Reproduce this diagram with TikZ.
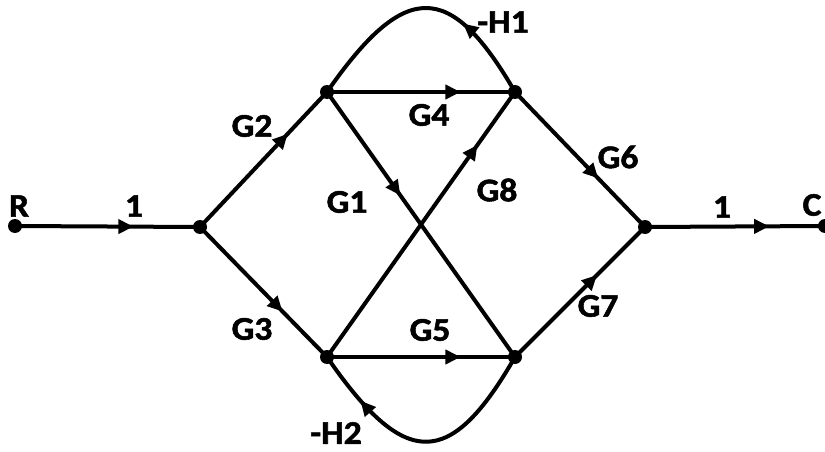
\documentclass[tikz,border=0pt]{standalone}
\usepackage{fontspec}
\newfontfamily\labfont{Carlito Bold}[FakeStretch=1.08,FakeBold=1.6]
\usetikzlibrary{arrows.meta,decorations.markings}
\begin{document}
\begin{tikzpicture}[x=1pt,y=-1pt,line width=4pt,
  dot/.style={circle,fill,inner sep=0pt,minimum size=14pt},
  lab/.style={font=\labfont\fontsize{33}{33}\selectfont,inner sep=0pt},
  mid/.style={postaction={decorate},decoration={markings,
     mark=at position #1 with {\arrow{Triangle[length=15pt,width=14pt]}}}}]
\useasboundingbox (0,0) rectangle (825,452);
\node[dot] (R) at (15,226) {};
\node[dot] (A) at (200,227) {};
\node[dot] (B) at (327,92) {};
\node[dot] (D) at (515,92) {};
\node[dot] (E) at (645,227) {};
\node[dot] (C) at (825,226) {};
\node[dot] (F) at (327,357) {};
\node[dot] (G) at (515,357) {};

\draw[mid=0.64] (R.center) -- (A.center);
\draw[mid=0.69] (E.center) -- (C.center);
\draw[mid=0.69] (A.center) -- (B.center);
\draw[mid=0.65] (A.center) -- (F.center);
\draw[mid=0.71] (B.center) -- (D.center);
\draw[mid=0.71] (F.center) -- (G.center);
\draw[mid=0.39] (B.center) -- (G.center);
\draw[mid=0.80] (F.center) -- (D.center);
\draw[mid=0.64] (D.center) -- (E.center);
\draw[mid=0.63] (G.center) -- (E.center);
\draw[mid=0.33] (D.center) .. controls (450,-20) and (405,-20) .. (B.center);
\draw[mid=0.79] (G.center) .. controls (450,470) and (405,470) .. (F.center);

\node[lab] (lR) at (19,206) {R};
\node[lab] (l1a) at (134,206) {1};
\node[lab] (l1b) at (722,207) {1};
\node[lab] (lC) at (812,205) {C};
\node[lab] (lG2) at (252,126) {G2};
\node[lab] (lG3) at (252,329) {G3};
\node[lab] (lG6) at (618,157) {G6};
\node[lab] (lG7) at (598,306) {G7};
\node[lab] (lG4) at (429,115) {G4};
\node[lab] (lG8) at (497,190) {G8};
\node[lab] (lG1) at (347,202) {G1};
\node[lab] (lG5) at (430,330) {G5};
\node[lab] (lH1) at (503,22) {-H1};
\node[lab] (lH2) at (336,433) {-H2};
\end{tikzpicture}
\end{document}
